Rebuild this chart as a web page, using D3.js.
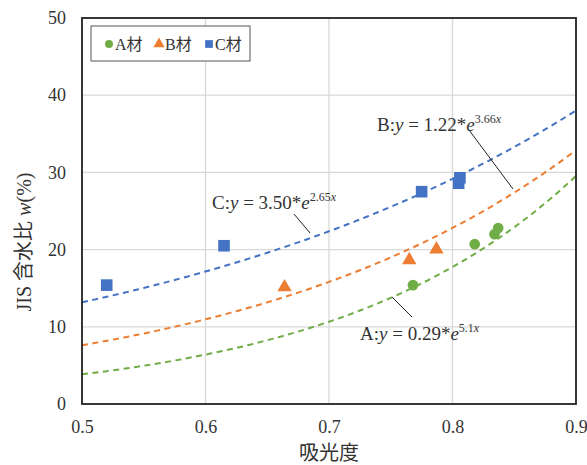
<!DOCTYPE html>
<html>
<head>
<meta charset="utf-8">
<script src="https://cdn.jsdelivr.net/npm/d3@7"></script>
<style>
  body { margin: 0; background: #fff; }
  svg { display: block; }
  text { font-family: "Liberation Serif", "Noto Sans CJK JP", serif; fill: #333; }
</style>
</head>
<body>
<svg id="chart" width="587" height="465"></svg>
<script>
const seriesNames = ['A材', 'B材', 'C材'];
const colors = ['#70ad47', '#ed7d31', '#4472c4'];
const aX = [0.768, 0.818, 0.834, 0.837];
const aY = [15.4, 20.7, 22.0, 22.8];
const bX = [0.664, 0.765, 0.787];
const bY = [15.0, 18.5, 19.9];
const cX = [0.520, 0.615, 0.775, 0.805, 0.806];
const cY = [15.4, 20.5, 27.5, 28.6, 29.3];

// trend lines y = a * e^(b x)
const trendA = [0.30, 5.1];
const trendB = [1.22, 3.66];
const trendC = [3.50, 2.65];
const eqLabels = [
  { name: 'A', coef: '0.29', pow: '5.1' },
  { name: 'B', coef: '1.22', pow: '3.66' },
  { name: 'C', coef: '3.50', pow: '2.65' }
];

const xTicks = [0.5, 0.6, 0.7, 0.8, 0.9];
const yTicks = [0, 10, 20, 30, 40, 50];

const margin = { left: 82, right: 11, top: 18, bottom: 61 };
const width = 587, height = 465;
const svg = d3.select('#chart');

const x = d3.scaleLinear().domain([0.5, 0.9]).range([margin.left, width - margin.right]);
const y = d3.scaleLinear().domain([0, 50]).range([height - margin.bottom, margin.top]);

// grid
svg.append('g').selectAll('line.h').data(yTicks.slice(1, -1)).enter().append('line')
  .attr('x1', x(0.5)).attr('x2', x(0.9))
  .attr('y1', d => y(d)).attr('y2', d => y(d))
  .attr('stroke', '#d9d9d9').attr('stroke-width', 1.3);
svg.append('g').selectAll('line.v').data(xTicks.slice(1, -1)).enter().append('line')
  .attr('y1', y(0)).attr('y2', y(50))
  .attr('x1', d => x(d)).attr('x2', d => x(d))
  .attr('stroke', '#d9d9d9').attr('stroke-width', 1.3);

// axes (labels only, frame drawn separately)
const yAxis = svg.append('g').attr('transform', `translate(${margin.left},0)`)
  .call(d3.axisLeft(y).tickValues(yTicks).tickSize(0).tickPadding(16));
const xAxis = svg.append('g').attr('transform', `translate(0,${y(0)})`)
  .call(d3.axisBottom(x).tickValues(xTicks).tickSize(0).tickPadding(16).tickFormat(d3.format('.1f')));
[yAxis, xAxis].forEach(g => {
  g.select('.domain').remove();
  g.selectAll('text').style('font-family', '"Liberation Serif", serif').style('font-size', '18px').attr('fill', '#333');
});

// trend lines
const trends = [trendA, trendB, trendC];
const line = d3.line().x(d => x(d[0])).y(d => y(d[1]));
trends.forEach((t, i) => {
  const pts = d3.range(0.5, 0.9001, 0.005).map(v => [v, t[0] * Math.exp(t[1] * v)]);
  svg.append('path').datum(pts)
    .attr('d', line)
    .attr('fill', 'none')
    .attr('stroke', colors[i])
    .attr('stroke-width', 2)
    .attr('stroke-dasharray', '6,4.5');
});

// markers
const aPts = aX.map((v, i) => [v, aY[i]]);
const bPts = bX.map((v, i) => [v, bY[i]]);
const cPts = cX.map((v, i) => [v, cY[i]]);
const circleSym = d3.symbol().type(d3.symbolCircle).size(90);
const triSym = d3.symbol().type(d3.symbolTriangle).size(90);
const sqSym = d3.symbol().type(d3.symbolSquare).size(135);

svg.append('g').selectAll('path').data(aPts).enter().append('path')
  .attr('d', circleSym).attr('fill', colors[0])
  .attr('transform', d => `translate(${x(d[0])},${y(d[1])})`);
svg.append('g').selectAll('path').data(bPts).enter().append('path')
  .attr('d', triSym).attr('fill', colors[1])
  .attr('transform', d => `translate(${x(d[0])},${y(d[1]) - 1})`);
svg.append('g').selectAll('path').data(cPts).enter().append('path')
  .attr('d', sqSym).attr('fill', colors[2])
  .attr('transform', d => `translate(${x(d[0])},${y(d[1])})`);

// frame
svg.append('rect')
  .attr('x', x(0.5)).attr('y', y(50))
  .attr('width', x(0.9) - x(0.5)).attr('height', y(0) - y(50))
  .attr('fill', 'none').attr('stroke', '#222').attr('stroke-width', 1.8);

// equation labels with leader lines
const eqPos = [
  { tx: 360, ty: 340, l: [392, 297, 412, 317] },
  { tx: 377, ty: 131, l: [469, 130, 513, 189] },
  { tx: 212, ty: 209, l: [294, 214, 310, 233] }
];
eqLabels.forEach((e, i) => {
  const p = eqPos[i];
  svg.append('line')
    .attr('x1', p.l[0]).attr('y1', p.l[1]).attr('x2', p.l[2]).attr('y2', p.l[3])
    .attr('stroke', '#222').attr('stroke-width', 1);
  const t = svg.append('text').attr('x', p.tx).attr('y', p.ty).style('font-size', '19px');
  t.append('tspan').text(e.name + ':');
  t.append('tspan').attr('font-style', 'italic').text('y');
  t.append('tspan').text(' = ' + e.coef + '*');
  t.append('tspan').attr('font-style', 'italic').text('e');
  t.append('tspan').attr('dy', -8).style('font-size', '12px').text(e.pow);
  t.append('tspan').attr('font-style', 'italic').style('font-size', '12px').text('x');
});

// legend
const leg = svg.append('g');
leg.append('rect').attr('x', 91).attr('y', 26).attr('width', 159).attr('height', 35)
  .attr('fill', '#fff').attr('stroke', '#555').attr('stroke-width', 1);
const legSyms = [
  d3.symbol().type(d3.symbolCircle).size(50),
  d3.symbol().type(d3.symbolTriangle).size(55),
  d3.symbol().type(d3.symbolSquare).size(60)
];
seriesNames.forEach((n, i) => {
  const lx = 109 + i * 50;
  leg.append('path').attr('d', legSyms[i]).attr('fill', colors[i])
    .attr('transform', `translate(${lx},44)`);
  leg.append('text').attr('x', lx + 6).attr('y', 50).style('font-size', '16px').text(n);
});

// axis titles
svg.append('text').attr('x', x(0.7)).attr('y', 460).attr('text-anchor', 'middle')
  .style('font-size', '20px').text('吸光度');
const yt = svg.append('text').attr('transform', 'translate(31,242) rotate(-90)')
  .attr('text-anchor', 'middle').style('font-size', '20px');
yt.append('tspan').text('JIS 含水比 ');
yt.append('tspan').attr('font-style', 'italic').text('w');
yt.append('tspan').text('(%)');
</script>
</body>
</html>
